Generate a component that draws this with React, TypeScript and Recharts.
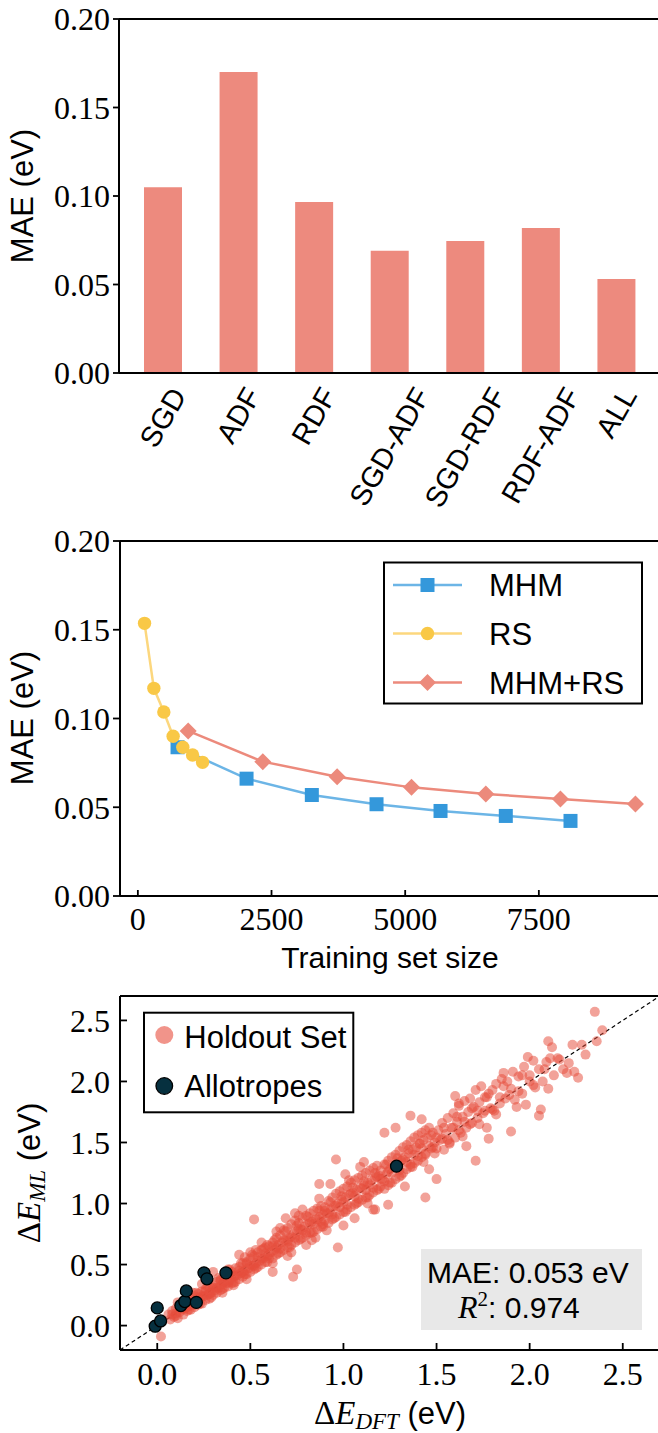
import React from 'react';
import {
  BarChart, Bar, XAxis, YAxis, LineChart, Line, ScatterChart, Scatter, ReferenceLine,
} from 'recharts';

// ---------- Panel 1 data ----------
const featureSets = ['SGD', 'ADF', 'RDF', 'SGD-ADF', 'SGD-RDF', 'RDF-ADF', 'ALL'];
const featureMae = [0.105, 0.170, 0.0966, 0.069, 0.0746, 0.0819, 0.0531];
const maeTicks = [0, 0.05, 0.1, 0.15, 0.2];

// ---------- Panel 2 data ----------
const mhmSize = [742, 2033, 3254, 4464, 5661, 6882, 8092];
const mhmMae = [0.0838, 0.0661, 0.0569, 0.0517, 0.0479, 0.0451, 0.0423];
const rsSize = [125, 299, 486, 660, 841, 1023, 1210];
const rsMae = [0.1536, 0.117, 0.1037, 0.090, 0.0838, 0.0794, 0.0753];
const mixSize = [941, 2337, 3727, 5118, 6508, 7904, 9307];
const mixMae = [0.0930, 0.0757, 0.0672, 0.0612, 0.0575, 0.0546, 0.0518];
const sizeTicks = [0, 2500, 5000, 7500];

// ---------- Panel 3 data ----------
const holdout: [number, number][] = [
  [0.06,0.09],[0.07,0.05],[0.08,0.12],[0.09,0.07],[0.10,0.10],[0.10,0.14],[0.11,0.06],[0.12,0.11],[0.12,0.16],[0.13,0.13],
  [0.14,0.09],[0.14,0.18],[0.15,0.14],[0.16,0.12],[0.16,0.20],[0.17,0.16],[0.18,0.13],[0.18,0.22],[0.19,0.18],[0.20,0.15],
  [0.20,0.24],[0.21,0.20],[0.22,0.17],[0.22,0.26],[0.23,0.22],[0.24,0.18],[0.24,0.28],[0.25,0.24],[0.26,0.21],[0.26,0.30],
  [0.27,0.25],[0.28,0.22],[0.28,0.32],[0.29,0.27],[0.19,0.27],[0.24,0.34],[0.02,-0.09],[0.30,0.44],[0.11,0.19],
  [0.30,0.25],[0.30,0.33],[0.31,0.29],[0.32,0.36],[0.32,0.27],[0.33,0.31],[0.34,0.38],[0.34,0.29],[0.35,0.34],[0.36,0.40],
  [0.36,0.31],[0.37,0.35],[0.38,0.42],[0.38,0.32],[0.39,0.37],[0.40,0.44],[0.40,0.35],[0.41,0.40],[0.42,0.47],[0.42,0.36],
  [0.43,0.41],[0.44,0.48],[0.44,0.38],[0.45,0.43],[0.46,0.51],[0.46,0.40],[0.47,0.45],[0.48,0.52],[0.48,0.42],[0.49,0.47],
  [0.50,0.55],[0.50,0.44],[0.51,0.49],[0.52,0.57],[0.52,0.46],[0.53,0.51],[0.54,0.60],[0.54,0.48],[0.55,0.53],[0.56,0.62],
  [0.56,0.50],[0.57,0.55],[0.58,0.64],[0.58,0.52],[0.59,0.57],[0.44,0.58],[0.48,0.38],[0.52,0.87],[0.38,0.46],[0.56,0.68],
  [0.47,0.56],[0.41,0.33],[0.53,0.62],[0.59,0.66],[0.35,0.27],[0.50,0.60],
  [0.60,0.55],[0.60,0.65],[0.61,0.60],[0.62,0.68],[0.62,0.55],[0.63,0.62],[0.64,0.72],[0.64,0.58],[0.65,0.66],[0.66,0.74],
  [0.66,0.60],[0.67,0.68],[0.68,0.78],[0.68,0.62],[0.69,0.70],[0.70,0.80],[0.70,0.64],[0.71,0.72],[0.72,0.83],[0.72,0.66],
  [0.73,0.75],[0.74,0.86],[0.74,0.68],[0.75,0.77],[0.76,0.84],[0.76,0.70],[0.77,0.79],[0.78,0.88],[0.78,0.72],[0.79,0.81],
  [0.80,0.90],[0.80,0.74],[0.81,0.83],[0.82,0.92],[0.82,0.76],[0.83,0.85],[0.84,0.94],[0.84,0.77],[0.85,0.87],[0.86,0.96],
  [0.86,0.79],[0.87,0.89],[0.88,0.98],[0.88,0.81],[0.89,0.91],[0.62,0.51],[0.62,0.44],[0.73,0.40],[0.75,0.46],[0.74,0.92],
  [0.66,0.80],[0.70,0.57],[0.78,0.95],[0.83,0.70],[0.87,1.04],[0.64,0.77],[0.80,0.66],[0.72,0.60],[0.69,0.88],[0.76,0.90],
  [0.85,0.72],[0.89,0.83],
  [0.90,0.86],[0.90,0.97],[0.91,0.92],[0.92,1.02],[0.92,0.84],[0.93,0.95],[0.94,1.05],[0.94,0.87],[0.95,0.98],[0.96,1.08],
  [0.96,0.89],[0.97,1.00],[0.98,1.10],[0.98,0.91],[0.99,1.03],[1.00,1.12],[1.00,0.93],[1.01,1.05],[1.02,1.14],[1.02,0.95],
  [1.03,1.07],[1.04,1.17],[1.04,0.97],[1.05,1.09],[1.06,1.19],[1.06,0.99],[1.07,1.11],[1.08,1.21],[1.08,1.01],[1.09,1.13],
  [1.10,1.23],[1.10,1.03],[1.11,1.15],[1.12,1.25],[1.12,1.05],[1.13,1.17],[1.14,1.27],[1.14,1.07],[1.15,1.19],[1.16,1.29],
  [1.16,1.09],[1.17,1.21],[1.18,1.31],[1.18,1.11],[1.19,1.23],[0.96,1.36],[0.97,0.64],[0.87,1.16],[0.93,1.16],[1.01,1.24],
  [1.03,1.19],[1.11,1.34],[1.17,0.95],[1.06,0.88],[0.91,0.78],[1.13,1.00],[1.00,0.82],[1.09,1.30],
  [1.20,1.14],[1.20,1.27],[1.21,1.20],[1.22,1.32],[1.22,1.12],[1.23,1.24],[1.24,1.35],[1.24,1.15],[1.25,1.28],[1.26,1.38],
  [1.26,1.17],[1.27,1.30],[1.28,1.40],[1.28,1.20],[1.29,1.33],[1.30,1.43],[1.30,1.22],[1.31,1.35],[1.32,1.46],[1.32,1.25],
  [1.33,1.38],[1.34,1.48],[1.34,1.28],[1.35,1.41],[1.36,1.51],[1.36,1.30],[1.37,1.44],[1.38,1.54],[1.38,1.33],[1.39,1.46],
  [1.40,1.56],[1.40,1.35],[1.41,1.49],[1.42,1.58],[1.42,1.38],[1.43,1.52],[1.44,1.60],[1.44,1.40],[1.45,1.54],[1.46,1.62],
  [1.47,1.45],[1.48,1.58],[1.49,1.50],[1.22,1.58],[1.28,1.62],[1.36,1.72],[1.42,1.69],[1.24,0.99],[1.16,0.95],[1.44,1.05],
  [1.50,1.20],[1.33,1.14],[1.46,1.28],
  [1.50,1.45],[1.51,1.60],[1.52,1.52],[1.53,1.66],[1.54,1.44],[1.55,1.57],[1.56,1.70],[1.57,1.50],[1.58,1.62],[1.59,1.74],
  [1.60,1.54],[1.61,1.67],[1.62,1.80],[1.63,1.58],[1.64,1.71],[1.65,1.84],[1.66,1.62],[1.67,1.75],[1.68,1.86],[1.69,1.66],
  [1.70,1.79],[1.71,1.93],[1.72,1.70],[1.73,1.83],[1.74,1.96],[1.75,1.74],[1.76,1.87],[1.77,1.62],[1.78,1.90],[1.79,1.78],
  [1.62,1.82],[1.71,1.35],[1.78,1.53],[1.60,1.88],[1.66,1.47],
  [1.80,1.93],[1.81,1.76],[1.82,1.98],[1.84,1.82],[1.85,2.02],[1.86,2.07],[1.87,1.86],[1.88,2.00],[1.90,1.59],[1.90,1.94],
  [1.91,2.08],[1.93,1.79],[1.94,2.04],[1.96,1.90],[1.97,2.12],[1.98,1.81],[1.99,2.20],[2.00,2.00],[2.02,2.17],[2.03,1.95],
  [2.05,1.72],[2.05,2.10],[2.06,1.77],[2.07,2.00],[2.09,2.16],[2.10,1.94],
  [2.10,2.33],[2.12,2.28],[2.13,2.05],[2.16,2.18],[2.18,2.10],[2.20,2.07],[2.21,2.15],[2.23,2.30],[2.24,2.08],[2.26,2.03],
  [2.28,2.30],[2.30,2.22],[2.35,2.57],[2.36,2.33],[2.39,2.42],
  // dense core close to the diagonal
  [0.08,0.09],[0.10,0.08],[0.12,0.15],[0.14,0.14],[0.16,0.15],[0.18,0.20],[0.20,0.17],[0.22,0.23],[0.24,0.24],[0.26,0.28],
  [0.28,0.26],[0.30,0.31],[0.32,0.31],[0.34,0.37],[0.36,0.36],[0.38,0.35],[0.40,0.42],[0.42,0.41],[0.44,0.45],[0.46,0.44],
  [0.48,0.51],[0.50,0.50],[0.52,0.49],[0.54,0.56],[0.56,0.55],[0.58,0.59],[0.60,0.58],[0.62,0.65],[0.64,0.64],[0.66,0.63],
  [0.68,0.70],[0.70,0.69],[0.72,0.73],[0.74,0.72],[0.76,0.79],[0.78,0.78],[0.80,0.76],[0.82,0.84],[0.84,0.83],[0.86,0.87],
  [0.88,0.85],[0.90,0.94],[0.92,0.92],[0.94,0.91],[0.96,0.98],[0.98,0.97],[1.00,1.01],[1.02,0.99],[1.04,1.08],[1.06,1.06],
  [1.08,1.04],[1.10,1.12],[1.12,1.11],[1.14,1.15],[1.16,1.13],[1.18,1.22],[1.20,1.20],[1.22,1.18],[1.24,1.26],[1.26,1.25],
  [1.28,1.31],[1.30,1.27],[1.32,1.36],[1.34,1.34],[1.36,1.32],[1.38,1.40],[1.40,1.39],[1.42,1.45],[1.44,1.41],[1.46,1.47],
  [1.48,1.46],[1.50,1.54],[1.53,1.53],[1.56,1.52],[1.59,1.62],[1.62,1.60],[1.65,1.67],[1.68,1.65],[1.72,1.76],[1.76,1.76],
  [1.80,1.77],[1.84,1.87],[1.89,1.89],[1.94,1.92],[2.00,2.05],[2.08,2.10],[2.15,2.19],
  // intermediate layer
  [0.15,0.20],[0.17,0.13],[0.21,0.27],[0.23,0.18],[0.27,0.32],[0.29,0.23],[0.33,0.39],[0.35,0.30],[0.39,0.46],[0.41,0.35],
  [0.45,0.51],[0.47,0.42],[0.51,0.58],[0.53,0.47],[0.57,0.63],[0.59,0.52],[0.63,0.70],[0.65,0.59],[0.69,0.77],[0.71,0.64],
  [0.75,0.82],[0.77,0.71],[0.81,0.89],[0.83,0.76],[0.87,0.94],[0.89,0.81],[0.93,1.01],[0.95,0.88],[0.99,1.06],[1.01,0.93],
  [1.05,1.13],[1.07,1.00],[1.11,1.18],[1.13,1.05],[1.17,1.25],[1.19,1.12],[1.23,1.32],[1.25,1.17],[1.29,1.37],[1.31,1.23],
  [1.35,1.44],[1.37,1.30],[1.41,1.49],[1.43,1.34],[1.47,1.56],[1.49,1.41],[1.54,1.62],[1.57,1.49],[1.61,1.71],[1.64,1.55],
  [1.69,1.78],[1.73,1.65],[1.77,1.87],[1.82,1.73],[1.86,1.96],[1.92,1.85],[1.96,2.05],[2.02,1.97],[2.11,2.19],
];
const allotropes: [number, number][] = [
  [-0.011, -0.005], [0.0, 0.145], [0.018, 0.038], [0.127, 0.164], [0.148, 0.197], [0.156, 0.284],
  [0.21, 0.19], [0.251, 0.432], [0.267, 0.383], [0.369, 0.432], [1.285, 1.306],
];
const energyTicks = [0, 0.5, 1.0, 1.5, 2.0, 2.5];
const energyTicksY = [0, 0.5, 1.0, 1.5, 2.0, 2.5];

// ---------- styles ----------
const BAR = '#ED8A7E';
const MHM_C = '#3498DB';
const MHM_L = '#6CB5E6';
const RS_C = '#F9C846';
const RS_L = '#FCD77E';
const MIX_C = '#EC8A7C';
const HOLD = '#E74C3C';
const ALLO = '#06303F';
const SERIF = '"Liberation Serif", serif';
const SANS = '"Liberation Sans", sans-serif';
const tickFont = { fontFamily: SERIF, fontSize: 32, fill: '#000' };
const axisLine = { stroke: '#000', strokeWidth: 2 };
const tickLine = { stroke: '#000', strokeWidth: 1.8 };

let _ctx: CanvasRenderingContext2D | null = null;
function measure(t: string, font: string) {
  if (!_ctx) _ctx = document.createElement('canvas').getContext('2d');
  if (!_ctx) return t.length * 16;
  _ctx.font = font;
  return _ctx.measureText(t).width;
}

function RotTick(props: any) {
  const { x, y, payload } = props;
  const label = String(payload.value);
  const fs = 29;
  const L = measure(label, `${fs}px "Liberation Sans"`);
  const H = L * Math.sin(Math.PI / 3) + fs * 0.5;
  const cy = y + 10 + H / 2;
  return (
    <text x={x} y={cy} textAnchor="middle" dominantBaseline="central"
      transform={`rotate(-60 ${x} ${cy})`} fontFamily={SANS} fontSize={fs} fill="#000">
      {label}
    </text>
  );
}

const barData = featureSets.map((name, i) => ({ name, mae: featureMae[i] }));
const mhmData = mhmSize.map((s, i) => ({ size: s, mae: mhmMae[i] }));
const rsData = rsSize.map((s, i) => ({ size: s, mae: rsMae[i] }));
const mixData = mixSize.map((s, i) => ({ size: s, mae: mixMae[i] }));
const holdData = holdout.map(([x, y]) => ({ x, y }));
const alloData = allotropes.map(([x, y]) => ({ x, y }));

const SquareDot = (p: any) => (
  <rect key={`s${p.index}`} x={p.cx - 7} y={p.cy - 7} width={14} height={14} fill={MHM_C} />
);
const CircleDot = (p: any) => (
  <circle key={`c${p.index}`} cx={p.cx} cy={p.cy} r={6.7} fill={RS_C} />
);
const DiamondDot = (p: any) => (
  <polygon key={`d${p.index}`}
    points={`${p.cx},${p.cy - 8.5} ${p.cx + 8.5},${p.cy} ${p.cx},${p.cy + 8.5} ${p.cx - 8.5},${p.cy}`}
    fill={MIX_C} />
);

export default function App() {
  return (
    <div style={{ position: 'absolute', left: 0, top: 0, width: 658, height: 1433, overflow: 'hidden', background: '#fff' }}>
      {/* Panel 1 */}
      <div style={{ position: 'absolute', left: 0, top: 0 }}>
        <BarChart width={680} height={515} data={barData} margin={{ top: 19, right: 20, left: 0, bottom: 0 }}>
          <XAxis dataKey="name" type="category" padding={{ left: 6, right: 6 }} height={142}
            axisLine={axisLine} tickLine={false} tickSize={0} tickMargin={0} tick={<RotTick />} interval={0} />
          <YAxis type="number" domain={[0, 0.2]} ticks={maeTicks} width={119} axisLine={axisLine}
            tickLine={tickLine} tickSize={6} tickMargin={3} tick={tickFont}
            tickFormatter={(v: number) => v.toFixed(2)} allowDataOverflow />
          <ReferenceLine y={0.2} stroke="#000" strokeWidth={2} />
          <Bar dataKey="mae" fill={BAR} barSize={38} isAnimationActive={false} />
        </BarChart>
      </div>

      {/* Panel 2 */}
      <div style={{ position: 'absolute', left: 0, top: 520 }}>
        <LineChart width={680} height={465} margin={{ top: 21, right: 20, left: 0, bottom: 0 }}>
          <XAxis dataKey="size" type="number" domain={[-334, 9766]} ticks={sizeTicks} height={89}
            axisLine={axisLine} tickLine={tickLine} tickSize={-6} tickMargin={17} tick={tickFont}
            allowDataOverflow />
          <YAxis type="number" domain={[0, 0.2]} ticks={maeTicks} width={120} axisLine={axisLine}
            tickLine={tickLine} tickSize={7} tickMargin={3} tick={tickFont}
            tickFormatter={(v: number) => v.toFixed(2)} allowDataOverflow />
          <ReferenceLine y={0.2} stroke="#000" strokeWidth={2} />
          <Line data={mhmData} dataKey="mae" stroke={MHM_L} strokeWidth={2.5} dot={SquareDot}
            activeDot={false} isAnimationActive={false} />
          <Line data={rsData} dataKey="mae" stroke={RS_L} strokeWidth={2.5} dot={CircleDot}
            activeDot={false} isAnimationActive={false} />
          <Line data={mixData} dataKey="mae" stroke={MIX_C} strokeWidth={2.5} dot={DiamondDot}
            activeDot={false} isAnimationActive={false} />
        </LineChart>
      </div>

      {/* Panel 3 */}
      <div style={{ position: 'absolute', left: 0, top: 985 }}>
        <ScatterChart width={680} height={448} margin={{ top: 11, right: 20, left: 0, bottom: 0 }}>
          <XAxis dataKey="x" type="number" domain={[-0.2, 2.7]} ticks={energyTicks} height={83}
            axisLine={axisLine} tickLine={tickLine} tickSize={-7} tickMargin={19} tick={tickFont}
            tickFormatter={(v: number) => v.toFixed(1)} allowDataOverflow />
          <YAxis dataKey="y" type="number" domain={[-0.2, 2.7]} ticks={energyTicksY} width={120}
            axisLine={axisLine} tickLine={tickLine} tickSize={-7} tickMargin={17} tick={tickFont}
            tickFormatter={(v: number) => v.toFixed(1)} allowDataOverflow />
          <ReferenceLine y={2.7} stroke="#000" strokeWidth={2} />
          <Scatter data={holdData} isAnimationActive={false}
            shape={(p: any) => <circle cx={p.cx} cy={p.cy} r={5} fill={HOLD} fillOpacity={0.52} />} />
          <ReferenceLine segment={[{ x: -0.2, y: -0.2 }, { x: 2.7, y: 2.7 }]} stroke="#000"
            strokeWidth={1.2} strokeDasharray="4 3" />
          <Scatter data={alloData} isAnimationActive={false}
            shape={(p: any) => <circle cx={p.cx} cy={p.cy} r={6} fill={ALLO} stroke="#000" strokeWidth={1.3} />} />
        </ScatterChart>
      </div>

      {/* Overlay: labels, legends, annotation */}
      <svg width={658} height={1433} style={{ position: 'absolute', left: 0, top: 0, pointerEvents: 'none' }}>
        {/* Panel 1 y label */}
        <text x={0} y={0} transform="translate(33 196) rotate(-90)" textAnchor="middle"
          fontFamily={SANS} fontSize={31} fill="#000">MAE (eV)</text>

        {/* Panel 2 y label */}
        <text x={0} y={0} transform="translate(33 718) rotate(-90)" textAnchor="middle"
          fontFamily={SANS} fontSize={31} fill="#000">MAE (eV)</text>
        {/* Panel 2 x label */}
        <text x={390} y={968} textAnchor="middle" fontFamily={SANS} fontSize={30} fill="#000">Training set size</text>

        {/* Panel 2 legend */}
        <rect x={384} y={562.5} width={258} height={141} fill="#fff" stroke="#000" strokeWidth={2} />
        <line x1={393} y1={585} x2={462} y2={585} stroke={MHM_L} strokeWidth={2.5} />
        <rect x={420.5} y={578} width={14} height={14} fill={MHM_C} />
        <text x={489} y={596} fontFamily={SANS} fontSize={31} fill="#000">MHM</text>
        <line x1={393} y1={633.5} x2={462} y2={633.5} stroke={RS_L} strokeWidth={2.5} />
        <circle cx={427.5} cy={633.5} r={6.7} fill={RS_C} />
        <text x={489} y={645} fontFamily={SANS} fontSize={31} fill="#000">RS</text>
        <line x1={393} y1={682.5} x2={462} y2={682.5} stroke={MIX_C} strokeWidth={2.5} />
        <polygon points="427.5,674 436,682.5 427.5,691 419,682.5" fill={MIX_C} />
        <text x={489} y={693.5} fontFamily={SANS} fontSize={31} fill="#000">MHM+RS</text>

        {/* Panel 3 y label */}
        <text x={0} y={0} transform="translate(40 1173) rotate(-90)" textAnchor="middle" fill="#000">
          <tspan fontFamily={SERIF} fontSize={33}>Δ</tspan>
          <tspan fontFamily={SERIF} fontStyle="italic" fontSize={33}>E</tspan>
          <tspan fontFamily={SERIF} fontStyle="italic" fontSize={23} dy={5}>ML</tspan>
          <tspan fontFamily={SANS} fontSize={31} dy={-5}> (eV)</tspan>
        </text>
        {/* Panel 3 x label */}
        <text x={390} y={1424} textAnchor="middle" fill="#000">
          <tspan fontFamily={SERIF} fontSize={33}>Δ</tspan>
          <tspan fontFamily={SERIF} fontStyle="italic" fontSize={33}>E</tspan>
          <tspan fontFamily={SERIF} fontStyle="italic" fontSize={23} dy={5}>DFT</tspan>
          <tspan fontFamily={SANS} fontSize={31} dy={-5}> (eV)</tspan>
        </text>

        {/* Panel 3 legend */}
        <rect x={144} y={1012.7} width={209.3} height={99.6} fill="#fff" stroke="#000" strokeWidth={2} />
        <circle cx={164.3} cy={1035} r={9} fill={HOLD} fillOpacity={0.6} />
        <text x={184.3} y={1047.5} fontFamily={SANS} fontSize={31} fill="#000">Holdout Set</text>
        <circle cx={164.3} cy={1086} r={8.3} fill={ALLO} stroke="#000" strokeWidth={1.3} />
        <text x={184.3} y={1097} fontFamily={SANS} fontSize={31} fill="#000">Allotropes</text>

        {/* Panel 3 stats box */}
        <rect x={421} y={1249} width={221} height={81} fill="#E8E8E8" />
        <text x={427} y={1283} fontFamily={SANS} fontSize={30} fill="#000">MAE: 0.053 eV</text>
        <text x={458} y={1318} fill="#000">
          <tspan fontFamily={SERIF} fontStyle="italic" fontSize={32}>R</tspan>
          <tspan fontFamily={SERIF} fontSize={21} dy={-12}>2</tspan>
          <tspan fontFamily={SANS} fontSize={30} dy={12}>: 0.974</tspan>
        </text>
      </svg>
    </div>
  );
}
